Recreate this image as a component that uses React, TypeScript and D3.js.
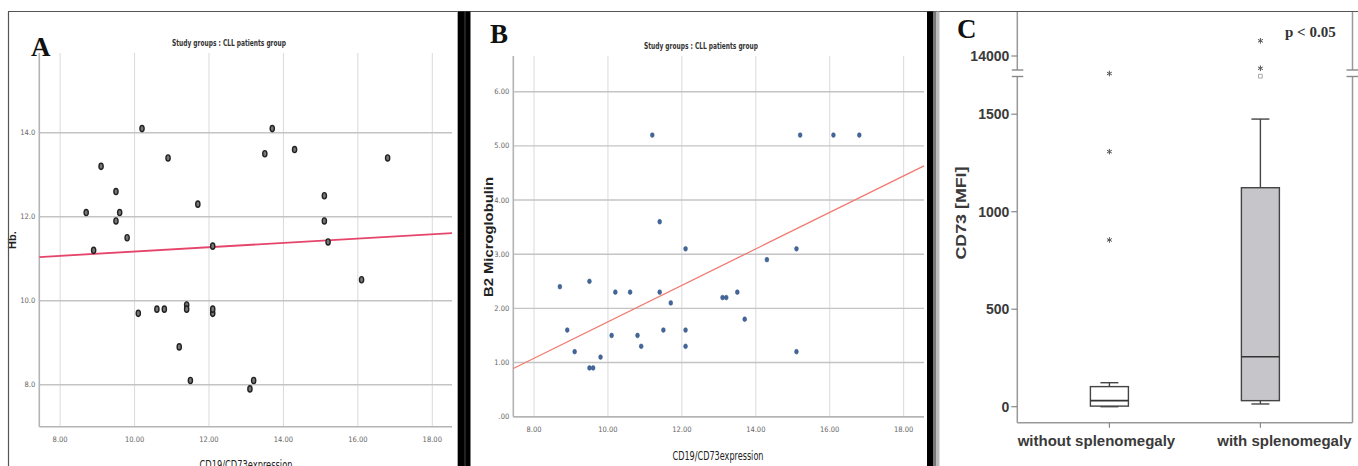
import React from "react";
import * as d3 from "d3";

// ---------- Panel A data (CD19/CD73 expression vs Hb) ----------
const aX = [10.2, 13.7, 10.9, 13.5, 14.3, 16.8, 9.1, 9.5, 11.7, 15.1, 8.7, 9.6, 9.5, 15.1, 9.8, 8.9, 12.1, 15.2, 16.1, 10.1, 10.6, 10.8, 11.4, 11.4, 12.1, 12.1, 11.2, 11.5, 13.1, 13.2];
const aY = [14.1, 14.1, 13.4, 13.5, 13.6, 13.4, 13.2, 12.6, 12.3, 12.5, 12.1, 12.1, 11.9, 11.9, 11.5, 11.2, 11.3, 11.4, 10.5, 9.7, 9.8, 9.8, 9.9, 9.8, 9.7, 9.8, 8.9, 8.1, 7.9, 8.1];
const aFitX = [7.44, 18.53];
const aFitY = [11.04, 11.61];
const aXTicks = [8, 10, 12, 14, 16, 18];
const aYTicks = [8, 10, 12, 14];

// ---------- Panel B data (CD19/CD73 expression vs B2 Microglobulin) ----------
const bX = [11.2, 15.2, 16.1, 16.8, 11.4, 12.1, 15.1, 14.3, 8.7, 9.5, 10.2, 10.6, 11.4, 11.7, 13.1, 13.2, 13.5, 13.7, 8.9, 11.5, 12.1, 10.1, 10.8, 10.9, 12.1, 9.1, 15.1, 9.8, 9.5, 9.6];
const bY = [5.2, 5.2, 5.2, 5.2, 3.6, 3.1, 3.1, 2.9, 2.4, 2.5, 2.3, 2.3, 2.3, 2.1, 2.2, 2.2, 2.3, 1.8, 1.6, 1.6, 1.6, 1.5, 1.5, 1.3, 1.3, 1.2, 1.2, 1.1, 0.9, 0.9];
const bFitX = [7.44, 18.55];
const bFitY = [0.89, 4.63];
const bXTicks = [8, 10, 12, 14, 16, 18];
const bYTicks = [0, 1, 2, 3, 4, 5, 6];

// ---------- Panel C data (CD73 MFI boxplots) ----------
const cCategories = ["without splenomegaly", "with splenomegaly"];
const cWhiskerLow = [0, 14];
const cQ1 = [3, 31];
const cMedian = [31, 256];
const cQ3 = [103, 1123];
const cWhiskerHigh = [123, 1475];
const cExtremeLow = [[855, 1308], []]; // stars on the lower axis segment
const cExtremeHigh = [[13000], [13300, 14870]]; // stars on the upper axis segment
const cMild = [[], [1695]]; // open squares
const cLowTicks = [0, 500, 1000, 1500];
const cHighTicks = [14000];
const cBoxFill = ["#ffffff", "#c6c6ca"];

const narrow = "'Liberation Sans Narrow','Arial Narrow','DejaVu Sans Condensed','Liberation Sans',Arial,sans-serif";
const sans = "'Liberation Sans',Arial,sans-serif";
const serif = "'Liberation Serif','Times New Roman',serif";

function fmt2(v: number) {
  const s = v.toFixed(2);
  return v === 0 ? ".00" : s;
}

function Scatter(props: {
  xs: number[]; ys: number[]; fitX: number[]; fitY: number[];
  xTicks: number[]; yTicks: number[];
  xDom: number[]; xRange: number[]; yDom: number[]; yRange: number[];
  yFmt: (v: number) => string; pointKind: "ring" | "dot"; lineColor: string;
  tickLabelYOffset: number;
}) {
  const x = d3.scaleLinear().domain(props.xDom).range(props.xRange);
  const y = d3.scaleLinear().domain(props.yDom).range(props.yRange);
  const [x0, x1] = props.xRange;
  const [yb, yt] = props.yRange;
  const line = d3.line<number>().x((_, i) => x(props.fitX[i])).y((d) => y(d));
  return (
    <g>
      {props.xTicks.map((t) => (
        <line key={"vx" + t} x1={x(t)} x2={x(t)} y1={yt} y2={yb} stroke="#dadada" strokeWidth={1} />
      ))}
      {props.yTicks.map((t) => (
        <line key={"hy" + t} x1={x0} x2={x1} y1={y(t)} y2={y(t)} stroke="#c4c4c4" strokeWidth={1.4} />
      ))}
      <line x1={x0} x2={x0} y1={yt} y2={yb} stroke="#b4b4b4" strokeWidth={1.6} />
      <line x1={x0} x2={x1} y1={yb} y2={yb} stroke="#b4b4b4" strokeWidth={1.6} />
      {props.yTicks.map((t) => (
        <text key={"ty" + t} x={x0 - 4} y={y(t) + 2.5} fontSize={7.5} fill="#666" textAnchor="end" fontFamily={narrow}>
          {props.yFmt(t)}
        </text>
      ))}
      {props.xTicks.map((t) => (
        <text key={"tx" + t} x={x(t)} y={yb + props.tickLabelYOffset} fontSize={7.5} fill="#666" textAnchor="middle" fontFamily={narrow}>
          {t.toFixed(2)}
        </text>
      ))}
      <path d={line(props.fitY) || ""} fill="none" stroke={props.lineColor} strokeWidth={props.pointKind === "ring" ? 1.8 : 1.3} />
      {props.xs.map((v, i) =>
        props.pointKind === "ring" ? (
          <ellipse key={"p" + i} cx={x(v)} cy={y(props.ys[i])} rx={2.1} ry={3.1} fill="#777" stroke="#222" strokeWidth={1.4} />
        ) : (
          <ellipse key={"p" + i} cx={x(v)} cy={y(props.ys[i])} rx={1.9} ry={2.4} fill="#44679a" stroke="#2f4f80" strokeWidth={0.5} />
        )
      )}
    </g>
  );
}

function BoxPanel() {
  const xLeft = 1017.3;
  const xRight = 1352.5;
  const yBottom = 422.7;
  const yTop = 12;
  const breakLo = 76.5;
  const breakHi = 70;
  const x = d3.scalePoint<string>().domain(cCategories).range([xLeft, xRight]).padding(0.61);
  const yLow = d3.scaleLinear().domain([0, 1500]).range([406.7, 114.2]);
  const yHigh = d3.scaleLinear().domain([13000, 16500]).range([73.5, 12.25]);
  const boxW = 38;
  const capW = 18;
  const star = d3.symbol().type(d3.symbolAsterisk).size(22)() || "";
  const square = d3.symbol().type(d3.symbolSquare).size(14)() || "";
  return (
    <g>
      {/* axes with breaks */}
      <line x1={xLeft} x2={xLeft} y1={yTop} y2={breakHi} stroke="#999" strokeWidth={1.5} />
      <line x1={xLeft} x2={xLeft} y1={breakLo} y2={yBottom} stroke="#999" strokeWidth={1.5} />
      <line x1={xRight} x2={xRight} y1={yTop} y2={breakHi} stroke="#999" strokeWidth={1.5} />
      <line x1={xRight} x2={xRight} y1={breakLo} y2={yBottom} stroke="#999" strokeWidth={1.5} />
      <line x1={xLeft} x2={xRight} y1={yBottom} y2={yBottom} stroke="#999" strokeWidth={1.5} />
      {[breakHi, breakLo].map((b) => (
        <g key={"br" + b}>
          <line x1={xLeft - 5.5} x2={xLeft + 6} y1={b} y2={b} stroke="#888" strokeWidth={1.4} />
          <line x1={xRight - 6} x2={xRight + 6} y1={b} y2={b} stroke="#888" strokeWidth={1.4} />
        </g>
      ))}
      {cLowTicks.map((t) => (
        <g key={"lt" + t}>
          <line x1={xLeft - 6} x2={xLeft} y1={yLow(t)} y2={yLow(t)} stroke="#888" strokeWidth={1.2} />
          <text x={xLeft - 8} y={yLow(t) + 5} fontSize={14} fontWeight="bold" fill="#3a3a3a" textAnchor="end" fontFamily={sans}>{t}</text>
        </g>
      ))}
      {cHighTicks.map((t) => (
        <g key={"ht" + t}>
          <line x1={xLeft - 6} x2={xLeft} y1={yHigh(t)} y2={yHigh(t)} stroke="#888" strokeWidth={1.2} />
          <text x={xLeft - 8} y={yHigh(t) + 5} fontSize={14} fontWeight="bold" fill="#3a3a3a" textAnchor="end" fontFamily={sans}>{t}</text>
        </g>
      ))}
      {cCategories.map((c, i) => {
        const cx = x(c) as number;
        const labelX = i === 0 ? cx - 13 : cx + 24;
        return (
          <g key={c}>
            <line x1={cx} x2={cx} y1={yBottom} y2={yBottom + 5} stroke="#888" strokeWidth={1.2} />
            <text x={labelX} y={446} fontSize={15} fontWeight="bold" fill="#3a3a3a" textAnchor="middle" fontFamily={sans}>{c}</text>
            {/* whiskers */}
            <line x1={cx} x2={cx} y1={yLow(cWhiskerHigh[i])} y2={yLow(cQ3[i])} stroke="#444" strokeWidth={1.4} />
            <line x1={cx} x2={cx} y1={yLow(cQ1[i])} y2={yLow(cWhiskerLow[i])} stroke="#444" strokeWidth={1.4} />
            <line x1={cx - capW / 2} x2={cx + capW / 2} y1={yLow(cWhiskerHigh[i])} y2={yLow(cWhiskerHigh[i])} stroke="#444" strokeWidth={1.4} />
            <line x1={cx - capW / 2} x2={cx + capW / 2} y1={yLow(cWhiskerLow[i])} y2={yLow(cWhiskerLow[i])} stroke="#444" strokeWidth={1.4} />
            <rect x={cx - boxW / 2} y={yLow(cQ3[i])} width={boxW} height={yLow(cQ1[i]) - yLow(cQ3[i])} fill={cBoxFill[i]} stroke="#444" strokeWidth={1.4} />
            <line x1={cx - boxW / 2} x2={cx + boxW / 2} y1={yLow(cMedian[i])} y2={yLow(cMedian[i])} stroke="#333" strokeWidth={1.6} />
            {cExtremeLow[i].map((v, j) => (
              <path key={"el" + j} d={star} transform={`translate(${cx},${yLow(v)})`} stroke="#555" strokeWidth={1} fill="none" />
            ))}
            {cExtremeHigh[i].map((v, j) => (
              <path key={"eh" + j} d={star} transform={`translate(${cx},${yHigh(v)})`} stroke="#555" strokeWidth={1} fill="none" />
            ))}
            {cMild[i].map((v, j) => (
              <path key={"m" + j} d={square} transform={`translate(${cx},${yLow(v)})`} stroke="#aaa" strokeWidth={1} fill="#fff" />
            ))}
          </g>
        );
      })}
      <text x={966} y={213} fontSize={15} fontWeight="bold" fill="#3a3a3a" textAnchor="middle" fontFamily={sans}
        transform="rotate(-90,966,213)" textLength={93} lengthAdjust="spacingAndGlyphs">
        CD73 [MFI]
      </text>
      <text x={1285} y={37} fontSize={15} fontWeight="bold" fill="#333" fontFamily={serif}>p &lt; 0.05</text>
    </g>
  );
}

export default function App() {
  return (
    <svg width={1358} height={466} style={{ position: "absolute", left: 0, top: 0, background: "#fff" }}>
      <rect x={0} y={0} width={1358} height={466} fill="#fff" />
      {/* Panel A */}
      <Scatter xs={aX} ys={aY} fitX={aFitX} fitY={aFitY} xTicks={aXTicks} yTicks={aYTicks}
        xDom={[7.44, 18.53]} xRange={[39.3, 452]} yDom={[7, 15.9]} yRange={[426.7, 53]}
        yFmt={(v) => v.toFixed(1)} pointKind="ring" lineColor="#e6456b" tickLabelYOffset={15} />
      <text x={229} y={46} fontSize={9} fontWeight="bold" fill="#333" textAnchor="middle" fontFamily={narrow} textLength={114} lengthAdjust="spacingAndGlyphs">
        Study groups : CLL patients group
      </text>
      <text x={246} y={469} fontSize={12} fill="#222" textAnchor="middle" fontFamily={narrow} textLength={93} lengthAdjust="spacingAndGlyphs">
        CD19/CD73expression
      </text>
      <text x={16} y={240} fontSize={11} fontWeight="bold" fill="#222" textAnchor="middle" fontFamily={sans} transform="rotate(-90,16,240)">Hb.</text>
      <text x={31} y={56} fontSize={27} fontWeight="bold" fill="#111" fontFamily={serif}>A</text>

      {/* Panel B */}
      <Scatter xs={bX} ys={bY} fitX={bFitX} fitY={bFitY} xTicks={bXTicks} yTicks={bYTicks}
        xDom={[7.44, 18.55]} xRange={[513.3, 924]} yDom={[0, 6.66]} yRange={[416.7, 56]}
        yFmt={fmt2} pointKind="dot" lineColor="#f27a70" tickLabelYOffset={15} />
      <text x={701} y={49} fontSize={9} fontWeight="bold" fill="#333" textAnchor="middle" fontFamily={narrow} textLength={114} lengthAdjust="spacingAndGlyphs">
        Study groups : CLL patients group
      </text>
      <text x={718} y={460} fontSize={12.5} fill="#222" textAnchor="middle" fontFamily={narrow} textLength={91} lengthAdjust="spacingAndGlyphs">
        CD19/CD73expression
      </text>
      <text x={493} y={237} fontSize={12} fontWeight="bold" fill="#222" textAnchor="middle" fontFamily={sans} transform="rotate(-90,493,237)" textLength={120} lengthAdjust="spacingAndGlyphs">B2 Microglobulin</text>
      <text x={490} y={43} fontSize={27} fontWeight="bold" fill="#111" fontFamily={serif}>B</text>

      {/* Panel C */}
      <BoxPanel />
      <text x={957} y={38} fontSize={27} fontWeight="bold" fill="#111" fontFamily={serif}>C</text>

      {/* frames and separators */}
      <line x1={8} x2={1358} y1={11.5} y2={11.5} stroke="#555" strokeWidth={1.2} />
      <line x1={8.5} x2={8.5} y1={11.5} y2={466} stroke="#555" strokeWidth={1.2} />
      <line x1={457.5} x2={457.5} y1={11.5} y2={466} stroke="#aaa" strokeWidth={1} />
      <rect x={458} y={11.5} width={12.5} height={455} fill="#000" />
      <line x1={465} x2={465} y1={11.5} y2={466} stroke="#555" strokeWidth={0.8} />
      <rect x={927} y={11.5} width={6.5} height={455} fill="#000" />
      <rect x={933.5} y={11.5} width={3} height={455} fill="#777" />
      <rect x={936.5} y={11.5} width={3} height={455} fill="#bbb" />
    </svg>
  );
}
